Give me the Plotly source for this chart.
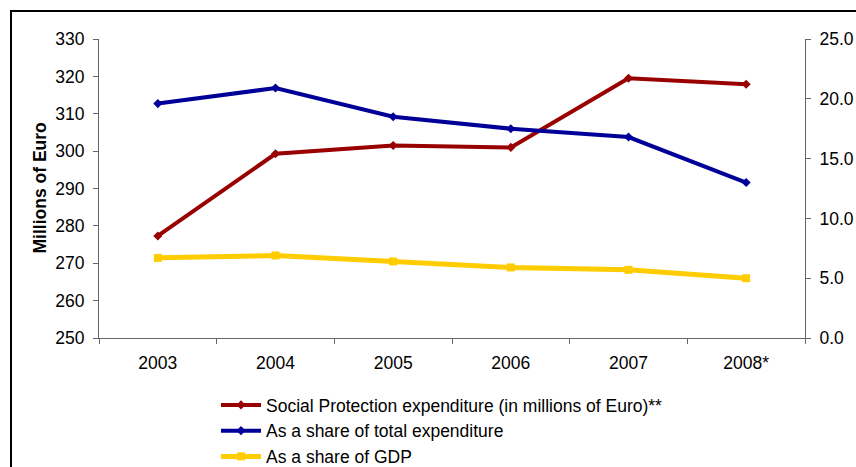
import plotly.graph_objects as go

years = ["2003", "2004", "2005", "2006", "2007", "2008*"]
social_protection = [277.3, 299.3, 301.5, 301.0, 319.5, 317.9]
share_total_exp = [19.6, 20.9, 18.5, 17.5, 16.8, 13.0]
share_gdp = [6.7, 6.9, 6.4, 5.9, 5.7, 5.0]

FONT = "Liberation Sans, Arial, sans-serif"
RED = "#990000"
BLUE = "#000099"
YEL = "#FFCC00"
AX = "#666666"

W, H = 856, 467
L, R, T, B = 99, 51, 39, 129
PW, PH = W - L - R, H - T - B

fig = go.Figure()
fig.add_trace(go.Scatter(
    x=years, y=social_protection, mode="lines+markers",
    name="Social Protection expenditure (in millions of Euro)**",
    line=dict(color=RED, width=4), marker=dict(symbol="diamond", size=7, color=RED),
    xaxis="x", yaxis="y"))
fig.add_trace(go.Scatter(
    x=years, y=share_total_exp, mode="lines+markers",
    name="As a share of total expenditure",
    line=dict(color=BLUE, width=4), marker=dict(symbol="diamond", size=7, color=BLUE),
    xaxis="x", yaxis="y2"))
fig.add_trace(go.Scatter(
    x=years, y=share_gdp, mode="lines+markers",
    name="As a share of GDP",
    line=dict(color=YEL, width=5), marker=dict(symbol="square", size=8, color=YEL),
    xaxis="x", yaxis="y2"))

tickfont = dict(family=FONT, size=17.5, color="black")

fig.update_layout(
    width=W, height=H, autosize=False,
    margin=dict(l=L, r=R, t=T, b=B, autoexpand=False),
    paper_bgcolor="white", plot_bgcolor="white",
    font=dict(family=FONT, size=17.5, color="black"),
    showlegend=True,
    legend=dict(xref="container", yref="container",
                x=216 / W, y=1 - 387 / H, xanchor="left", yanchor="top",
                font=dict(family=FONT, size=17.5, color="black"),
                bgcolor="rgba(0,0,0,0)", tracegroupgap=0, itemwidth=40),
    xaxis=dict(type="category", categoryorder="array", categoryarray=years,
               range=[-0.5, 5.5], showgrid=False, zeroline=False,
               showline=True, linecolor=AX, linewidth=1,
               ticks="outside", ticklen=5, tickcolor=AX, tickson="boundaries",
               tickfont=tickfont, ticklabelstandoff=9),
    yaxis=dict(range=[250, 330], dtick=10, showgrid=False, zeroline=False,
               showline=True, linecolor=AX, linewidth=1,
               ticks="outside", ticklen=5, tickcolor=AX,
               tickfont=tickfont, ticklabelstandoff=5),
    yaxis2=dict(range=[0, 25], dtick=5, tickformat=".1f", overlaying="y", side="right",
                showgrid=False, zeroline=False, showline=True, linecolor=AX, linewidth=1,
                ticks="outside", ticklen=5, tickcolor=AX, tickfont=tickfont,
                ticklabelstandoff=5),
    yaxis3=dict(range=[250, 330], dtick=10, overlaying="y", side="left", anchor="x",
                showgrid=False, zeroline=False, showline=False, showticklabels=False,
                ticks="inside", ticklen=5, tickcolor=AX),
    yaxis4=dict(range=[0, 25], dtick=5, overlaying="y", side="right", anchor="x",
                showgrid=False, zeroline=False, showline=False, showticklabels=False,
                ticks="inside", ticklen=5, tickcolor=AX),
    xaxis2=dict(type="category", categoryorder="array", categoryarray=years,
                range=[-0.5, 5.5], overlaying="x", anchor="y", side="bottom",
                showgrid=False, zeroline=False, showline=False, showticklabels=False,
                ticks="inside", ticklen=5, tickcolor=AX, tickson="boundaries"),
)

fig.add_annotation(text="<b>Millions of Euro</b>", xref="paper", yref="paper",
                   x=(39 - L) / PW, y=0.5, xanchor="center", yanchor="middle",
                   textangle=-90, showarrow=False,
                   font=dict(family=FONT, size=17.5, color="black"))

fig.add_shape(type="rect", xref="paper", yref="paper",
              x0=(11 - L) / PW, x1=(880 - L) / PW,
              y0=(PH + T - 490) / PH, y1=(PH + T - 11) / PH,
              line=dict(color="black", width=2), fillcolor="rgba(0,0,0,0)", layer="below")

fig.write_html(
    "out.html",
    config={"displayModeBar": False},
    post_script="document.documentElement.style.overflow='hidden';"
                "document.body.style.margin='0';document.body.style.overflow='hidden';",
)
